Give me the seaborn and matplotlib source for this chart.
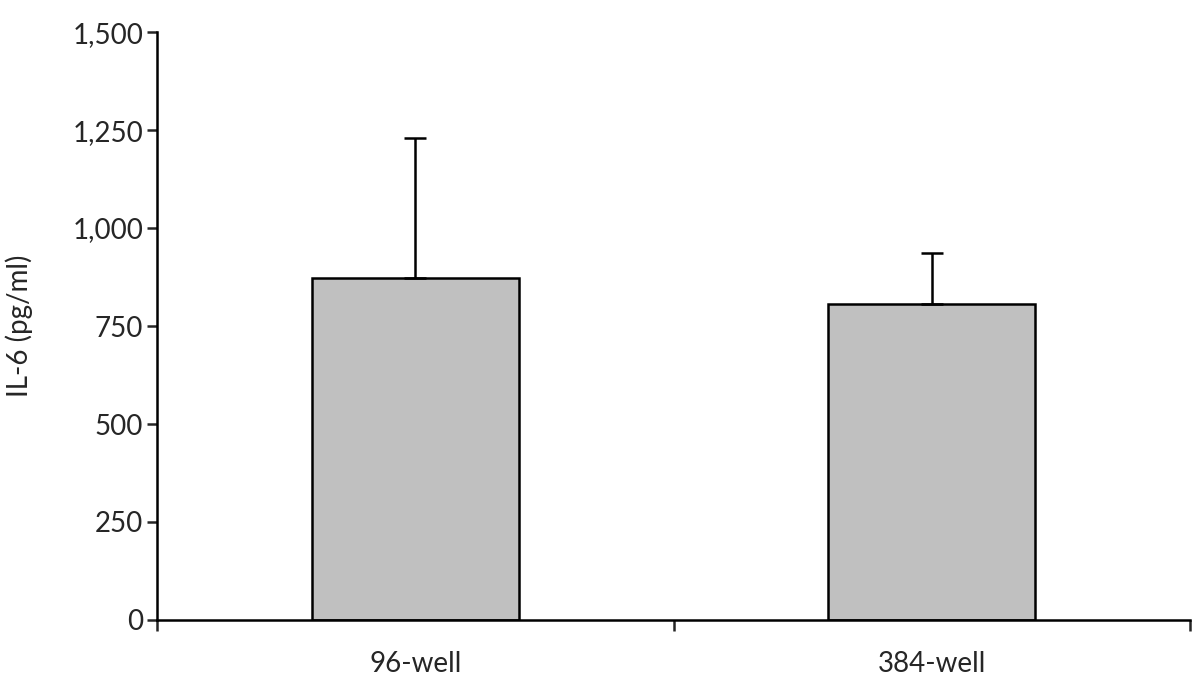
import matplotlib
matplotlib.use("Agg")
import matplotlib.pyplot as plt
import seaborn as sns
import pandas as pd
from matplotlib.ticker import FixedLocator, FuncFormatter

plates = ["96-well", "384-well"]
il6_mean = [873, 807]
il6_sd = [357, 130]

df = pd.DataFrame({"plate": plates, "il6": il6_mean})

sns.set_style("white")
plt.rcParams["font.family"] = ["Lato", "DejaVu Sans"]

fig = plt.figure(figsize=(12, 6.97), dpi=100)
ax = fig.add_axes([0.1308, 0.1105, 0.8609, 0.8435])

sns.barplot(data=df, x="plate", y="il6", color="#c0c0c0", width=0.4,
            edgecolor="black", linewidth=1.8, saturation=1, errorbar=None, ax=ax)
ax.errorbar(range(len(plates)), il6_mean, yerr=[[0] * len(plates), il6_sd],
            fmt="none", ecolor="black", elinewidth=1.8, capsize=8, capthick=1.8)

ax.set_xlim(-0.5, 1.5)
ax.set_ylim(0, 1500)
ax.set_yticks(range(0, 1501, 250))
ax.yaxis.set_major_formatter(FuncFormatter(lambda v, p: f"{int(v):,}"))
ax.xaxis.set_minor_locator(FixedLocator([-0.5, 0.5, 1.5]))
ax.tick_params(axis="x", which="major", length=0, pad=22, labelsize=20)
ax.tick_params(axis="x", which="minor", length=8, width=1.8, direction="out", bottom=True)
ax.tick_params(axis="y", length=7, width=1.8, direction="out", left=True, labelsize=20, pad=3)

ax.set_xlabel("")
ax.set_ylabel("IL-6 (pg/ml)", fontsize=20, labelpad=28)
for s in ["top", "right"]:
    ax.spines[s].set_visible(False)
for s in ["left", "bottom"]:
    ax.spines[s].set_linewidth(1.8)
    ax.spines[s].set_color("black")

fig.savefig("out.png", dpi=100)
